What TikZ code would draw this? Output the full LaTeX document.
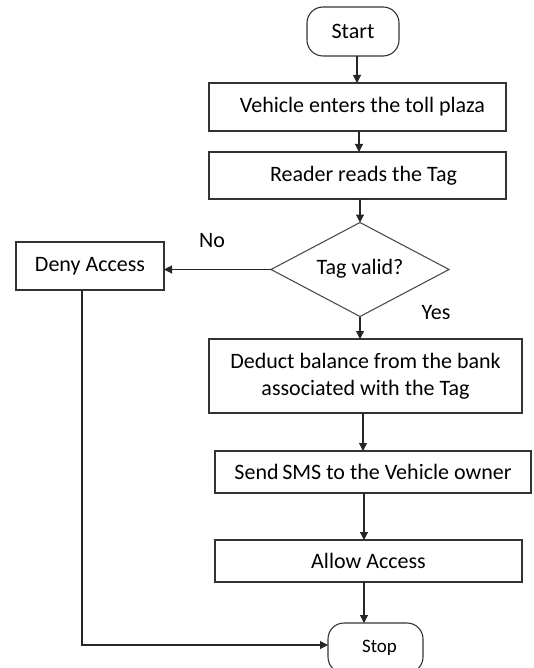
\documentclass[tikz,border=0pt]{standalone}
\usepackage{fontspec}
\setmainfont{Carlito}
\usetikzlibrary{arrows.meta,shapes.geometric}
\begin{document}
\begin{tikzpicture}[x=1pt,y=-1pt,
  every node/.style={inner sep=0pt,outer sep=0pt,font=\fontsize{22}{27}\selectfont,text=black},
  box/.style={draw=black!80,line width=1.1pt,rectangle},
  term/.style={draw=black!80,line width=1.1pt,rectangle,rounded corners=16pt},
  conn/.style={draw=black!85,line width=1.1pt,-{Triangle[length=8pt,width=8pt]}},
  lab/.style={font=\fontsize{22}{25}\selectfont}
]
\useasboundingbox (0,0) rectangle (533,668);
\node[term,minimum width=92pt,minimum height=49pt] (start) at (353,31.5) {Start};
\node[box,minimum width=297pt,minimum height=48pt] (b1) at (357.5,107) {\hspace{10pt}Vehicle enters the toll plaza};
\node[box,minimum width=297pt,minimum height=47pt] (b2) at (357.5,175.5) {\hspace{12pt}Reader reads the Tag};
\node[diamond,aspect=2,draw=black!70,line width=1.1pt,minimum width=178pt,minimum height=94pt,inner sep=0pt] (d) at (360,269.5) {\raisebox{5pt}{Tag valid?}};
\node[box,minimum width=148pt,minimum height=48pt] (deny) at (90,266) {\raisebox{3pt}{Deny Access}};
\node[box,minimum width=313pt,minimum height=74pt,align=center] (b3) at (365.5,376) {Deduct balance from the bank\\associated with the Tag};
\node[box,minimum width=316pt,minimum height=42pt] (b4) at (373,472) {Send\,SMS to the Vehicle owner};
\node[box,minimum width=307pt,minimum height=42pt] (b5) at (368.5,561) {Allow Access};
\node[term,minimum width=95pt,minimum height=50pt,font=\fontsize{19}{23}\selectfont] (stop) at (375.5,648) {\hspace{8pt}Stop};
\node[lab] (no) at (212,241) {No};
\node[lab] (yes) at (436,313) {Yes};
\coordinate (dc) at (82,645);
\draw[conn] (start.south -| 357,0) -- (b1.north -| 357,0);
\draw[conn] (b1.south -| 359,0) -- (b2.north -| 359,0);
\draw[conn] (b2.south -| d.north) -- (d.north);
\draw[conn] (d.west) -- (deny.east |- d.west);
\draw[conn] (d.south) -- (b3.north -| d.south);
\draw[conn] (b3.south -| 363,0) -- (b4.north -| 363,0);
\draw[conn] (b4.south -| 364,0) -- (b5.north -| 364,0);
\draw[conn] (b5.south -| 364,0) -- (stop.north -| 364,0);
\draw[conn] (deny.south -| dc) -- (dc) -- (stop.west |- dc);
\end{tikzpicture}
\end{document}
